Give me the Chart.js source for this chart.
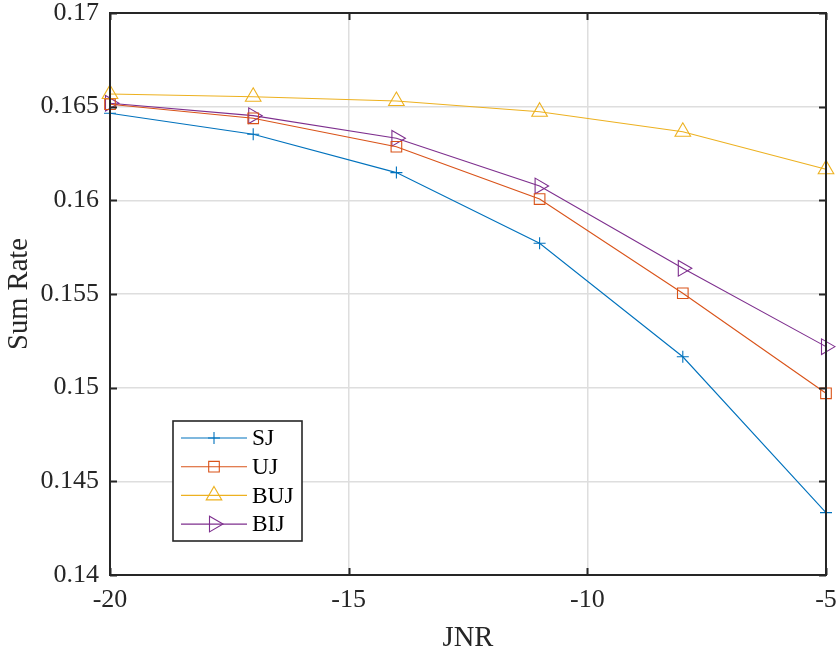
<!DOCTYPE html>
<html>
<head>
<meta charset="utf-8">
<title>Sum Rate vs JNR</title>
<script src="https://cdn.jsdelivr.net/npm/chart.js@4.4.0/dist/chart.umd.min.js"></script>
<style>
  html, body { margin: 0; padding: 0; background: #fff; }
  #wrap { width: 840px; height: 653px; }
</style>
</head>
<body>
<div id="wrap"><canvas id="chart" width="840" height="653"></canvas></div>
<script>
/* chart data */
var jnr = [-20, -17, -14, -11, -8, -5];
var sjRate  = [0.16465, 0.16353, 0.16148, 0.15771, 0.15165, 0.14333];
var ujRate  = [0.16513, 0.16438, 0.16286, 0.16007, 0.15504, 0.14970];
var bujRate = [0.16568, 0.16553, 0.16530, 0.16473, 0.16366, 0.16166];
var bijRate = [0.16518, 0.16452, 0.16331, 0.16077, 0.15637, 0.15219];

var xTicks = [-20, -15, -10, -5];
var yTicks = [0.14, 0.145, 0.15, 0.155, 0.16, 0.165, 0.17];

var seriesNames = ['SJ', 'UJ', 'BUJ', 'BIJ'];

var serif = "'Liberation Serif', 'Times New Roman', serif";
var axisColor = '#262626';

function toPoints(values) {
  var pts = [];
  for (var i = 0; i < values.length; i++) {
    pts.push({ x: jnr[i], y: values[i] });
  }
  return pts;
}

function makeSeries(label, values, color, style, radius, rotation) {
  return {
    label: label,
    data: toPoints(values),
    borderColor: color,
    backgroundColor: 'rgba(0,0,0,0)',
    borderWidth: 1.1,
    pointStyle: style,
    pointRadius: radius,
    pointHoverRadius: radius,
    pointRotation: rotation || 0,
    pointBorderColor: color,
    pointBackgroundColor: 'rgba(0,0,0,0)',
    pointBorderWidth: 1.1,
    tension: 0,
    clip: false
  };
}

/* box + inward ticks, drawn over the data like matlab does */
var framePlugin = {
  id: 'frame',
  afterDatasetsDraw: function(chart) {
    var ctx = chart.ctx;
    var a = chart.chartArea;
    var xs = chart.scales.x, ys = chart.scales.y;
    var tl = 7;
    ctx.save();
    ctx.strokeStyle = axisColor;
    ctx.lineWidth = 2;
    ctx.beginPath();
    for (var i = 0; i < xTicks.length; i++) {
      var px = Math.round(xs.getPixelForValue(xTicks[i])) + 0.5;
      ctx.moveTo(px, a.bottom); ctx.lineTo(px, a.bottom - tl);
      ctx.moveTo(px, a.top); ctx.lineTo(px, a.top + tl);
    }
    for (var j = 0; j < yTicks.length; j++) {
      var py = Math.round(ys.getPixelForValue(yTicks[j])) + 0.5;
      ctx.moveTo(a.left, py); ctx.lineTo(a.left + tl, py);
      ctx.moveTo(a.right, py); ctx.lineTo(a.right - tl, py);
    }
    ctx.stroke();
    ctx.strokeRect(a.left, a.top, a.right - a.left, a.bottom - a.top);
    ctx.restore();
  }
};

/* legend box inside the axes, lower left */
var legendPlugin = {
  id: 'boxLegend',
  afterDraw: function(chart) {
    var ctx = chart.ctx;
    var box = { x: 173, y: 421, w: 129, h: 120 };
    var rowH = 28.7;
    ctx.save();
    ctx.fillStyle = '#fff';
    ctx.fillRect(box.x, box.y, box.w, box.h);
    ctx.strokeStyle = axisColor;
    ctx.lineWidth = 1.6;
    ctx.strokeRect(box.x, box.y, box.w, box.h);

    ctx.font = '23.4px ' + serif;
    ctx.textBaseline = 'middle';
    ctx.textAlign = 'left';
    var sets = chart.data.datasets;
    for (var i = 0; i < sets.length; i++) {
      var ds = sets[i];
      var cy = box.y + 17 + i * rowH;
      ctx.strokeStyle = ds.borderColor;
      ctx.lineWidth = 1.1;
      ctx.beginPath();
      ctx.moveTo(box.x + 8, cy);
      ctx.lineTo(box.x + 74, cy);
      ctx.stroke();
      ctx.fillStyle = 'rgba(0,0,0,0)';
      if (Chart.helpers && Chart.helpers.drawPoint) {
        Chart.helpers.drawPoint(ctx, {
          pointStyle: ds.pointStyle,
          rotation: ds.pointRotation,
          radius: ds.pointRadius,
          borderWidth: 1.1
        }, box.x + 41, cy);
      }
      ctx.fillStyle = '#000';
      ctx.fillText(ds.label, box.x + 79, cy + 1);
    }
    ctx.restore();
  }
};

var ctx = document.getElementById('chart').getContext('2d');
var chart = new Chart(ctx, {
  type: 'line',
  data: {
    datasets: [
      makeSeries(seriesNames[0], sjRate,  '#0072BD', 'cross', 6),
      makeSeries(seriesNames[1], ujRate,  '#D95319', 'rect', 7.5),
      makeSeries(seriesNames[2], bujRate, '#EDB120', 'triangle', 9),
      makeSeries(seriesNames[3], bijRate, '#7E2F8E', 'triangle', 9, 90)
    ]
  },
  options: {
    responsive: false,
    animation: false,
    devicePixelRatio: 1,
    layout: { padding: { top: 13, right: 14, left: 0, bottom: 0 } },
    plugins: {
      legend: { display: false },
      tooltip: { enabled: false },
      title: { display: false }
    },
    scales: {
      x: {
        type: 'linear',
        min: -20,
        max: -5,
        afterBuildTicks: function(scale) {
          scale.ticks = xTicks.map(function(v) { return { value: v }; });
        },
        afterFit: function(scale) {
          scale.height = 78;
          scale.paddingLeft = 0;
          scale.paddingRight = 0;
        },
        grid: { color: '#dedede', lineWidth: 1.5, drawTicks: false },
        border: { display: false },
        ticks: {
          padding: 10,
          color: axisColor,
          font: { family: serif, size: 26 },
          maxRotation: 0,
          callback: function(v) { return String(v); }
        },
        title: {
          display: true,
          text: 'JNR',
          color: axisColor,
          font: { family: serif, size: 28.6, lineHeight: 1.0 },
          padding: { top: 0, bottom: 0 }
        }
      },
      y: {
        type: 'linear',
        min: 0.14,
        max: 0.17,
        afterBuildTicks: function(scale) {
          scale.ticks = yTicks.map(function(v) { return { value: v }; });
        },
        afterFit: function(scale) {
          scale.width = 110;
          scale.paddingTop = 0;
          scale.paddingBottom = 0;
        },
        grid: { color: '#dedede', lineWidth: 1.5, drawTicks: false },
        border: { display: false },
        ticks: {
          padding: 11,
          color: axisColor,
          font: { family: serif, size: 26 },
          callback: function(v) { return String(Number(v.toFixed(3))); }
        },
        title: {
          display: true,
          text: 'Sum Rate',
          color: axisColor,
          font: { family: serif, size: 28.6, lineHeight: 1.0 },
          padding: { top: 5, bottom: 0 }
        }
      }
    }
  },
  plugins: [framePlugin, legendPlugin]
});
</script>
</body>
</html>
